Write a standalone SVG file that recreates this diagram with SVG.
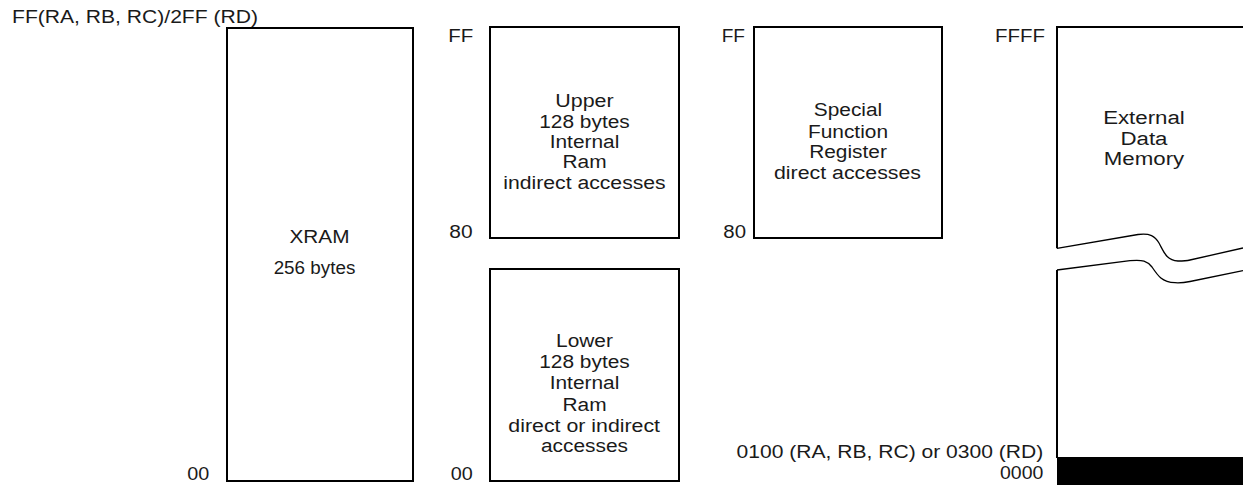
<svg xmlns="http://www.w3.org/2000/svg" width="1243" height="485" viewBox="0 0 1243 485">
<style>
.box{fill:#fff;stroke:#000;stroke-width:2}
.ln{fill:none;stroke:#000;stroke-width:2}
.cv{fill:none;stroke:#000;stroke-width:1.3}
text{font-family:"Liberation Sans",Arial,sans-serif;font-size:18px;fill:#1a1a1a}
.m{text-anchor:middle}
.e{text-anchor:end}
</style>
<rect width="1243" height="485" fill="#fff"/>
<g id="xram">
<rect class="box" x="227" y="28" width="186" height="453"/>
<text class="m" x="319.5" y="243.3" textLength="60" lengthAdjust="spacingAndGlyphs">XRAM</text>
<text class="m" x="314.5" y="273.5" textLength="81.7" lengthAdjust="spacingAndGlyphs">256 bytes</text>
<text x="12" y="22.5" textLength="246" lengthAdjust="spacingAndGlyphs">FF(RA, RB, RC)/2FF (RD)</text>
<text x="187.3" y="480" textLength="22" lengthAdjust="spacingAndGlyphs">00</text>
</g>
<g id="upper">
<rect class="box" x="490" y="27" width="189" height="211"/>
<text class="m" x="584.5" y="106.7" textLength="58.3" lengthAdjust="spacingAndGlyphs">Upper</text>
<text class="m" x="584.5" y="127.7" textLength="90.5" lengthAdjust="spacingAndGlyphs">128 bytes</text>
<text class="m" x="584.5" y="147.9" textLength="69.6" lengthAdjust="spacingAndGlyphs">Internal</text>
<text class="m" x="584.5" y="168.3" textLength="44.1" lengthAdjust="spacingAndGlyphs">Ram</text>
<text class="m" x="584.5" y="189" textLength="162.3" lengthAdjust="spacingAndGlyphs">indirect accesses</text>
<text x="448.3" y="41.7" textLength="25" lengthAdjust="spacingAndGlyphs">FF</text>
<text x="449.3" y="238" textLength="23.3" lengthAdjust="spacingAndGlyphs">80</text>
</g>
<g id="lower">
<rect class="box" x="490" y="269" width="189" height="212"/>
<text class="m" x="584.5" y="346.7" textLength="56.9" lengthAdjust="spacingAndGlyphs">Lower</text>
<text class="m" x="584.5" y="367.7" textLength="90.5" lengthAdjust="spacingAndGlyphs">128 bytes</text>
<text class="m" x="584.5" y="388.5" textLength="69.6" lengthAdjust="spacingAndGlyphs">Internal</text>
<text class="m" x="584.5" y="410.5" textLength="44.1" lengthAdjust="spacingAndGlyphs">Ram</text>
<text class="m" x="584.2" y="431.7" textLength="151.7" lengthAdjust="spacingAndGlyphs">direct or indirect</text>
<text class="m" x="584.5" y="452.3" textLength="87" lengthAdjust="spacingAndGlyphs">accesses</text>
<text x="450.7" y="480" textLength="22" lengthAdjust="spacingAndGlyphs">00</text>
</g>
<g id="sfr">
<rect class="box" x="754" y="27" width="188" height="211"/>
<text class="m" x="848" y="115.7" textLength="68.5" lengthAdjust="spacingAndGlyphs">Special</text>
<text class="m" x="848" y="137.5" textLength="80.1" lengthAdjust="spacingAndGlyphs">Function</text>
<text class="m" x="848" y="158.3" textLength="77.7" lengthAdjust="spacingAndGlyphs">Register</text>
<text class="m" x="847.5" y="179.3" textLength="147" lengthAdjust="spacingAndGlyphs">direct accesses</text>
<text x="721.7" y="41.7" textLength="23.3" lengthAdjust="spacingAndGlyphs">FF</text>
<text x="723.3" y="237.7" textLength="22.7" lengthAdjust="spacingAndGlyphs">80</text>
</g>
<g id="external">
<path class="ln" d="M1243,27 H1057 V248.3"/>
<path class="ln" d="M1057,270 V458"/>
<rect x="1057" y="457" width="186" height="28" fill="#000"/>
<text class="m" x="1144" y="124.3" font-size="19.5" textLength="81.7" lengthAdjust="spacingAndGlyphs">External</text>
<text class="m" x="1144" y="145" font-size="19.5" textLength="47" lengthAdjust="spacingAndGlyphs">Data</text>
<text class="m" x="1144" y="165" font-size="19.5" textLength="80.4" lengthAdjust="spacingAndGlyphs">Memory</text>
<text class="e" x="1045" y="41.7" textLength="50" lengthAdjust="spacingAndGlyphs">FFFF</text>
<text class="e" x="1043.3" y="458.3" textLength="306.7" lengthAdjust="spacingAndGlyphs">0100 (RA, RB, RC) or 0300 (RD)</text>
<text class="e" x="1043.3" y="479.3" textLength="43.3" lengthAdjust="spacingAndGlyphs">0000</text>
</g>
<g id="connectors">
<path class="cv" d="M1057,248.3 L1138,234.5 C1150,233 1155,236 1159,243 C1164,252 1166,260 1178,261 C1183,261 1186,261 1190,260 L1243,248"/>
<path class="cv" d="M1057,270 L1130,260.7 C1143,259.5 1147,261 1152,267 C1158,276 1162,282 1175,282.7 C1180,283 1185,282.5 1190,281.5 L1243,270.7"/>
</g>
</svg>
